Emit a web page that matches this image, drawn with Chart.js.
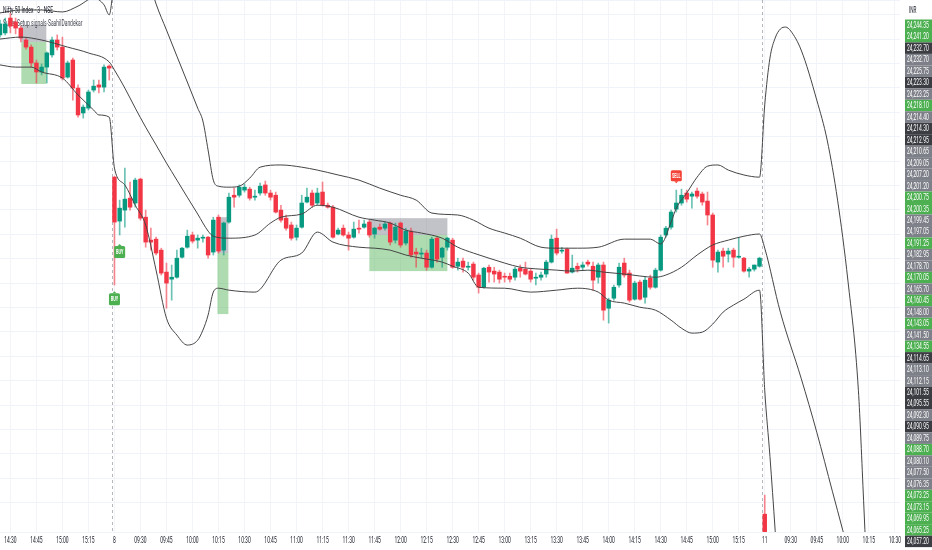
<!DOCTYPE html>
<html>
<head>
<meta charset="utf-8">
<script src="https://cdn.jsdelivr.net/npm/chart.js@4.4.1/dist/chart.umd.min.js"></script>
<style>
  html, body { margin: 0; padding: 0; background: #fff; }
  #wrap { width: 932px; height: 550px; position: relative; }
</style>
</head>
<body>
<div id="wrap"><canvas id="chart"></canvas></div>
<script>
// Nifty 50 Index, 3 min candles (slot 0 = 14:24 on the 7th, slot 22 = 09:15 on the 8th, slot 147 = 09:15 on the 11th)
const slotCount = 174;

const opens = [
  24261.7, 24262.5, 24268.6, 24267.0, 24264.5, 24259.6, 24256.7, 24250.2, 24246.5, 24248.5,
  24253.5, 24259.6, 24256.7, 24244.4, 24251.4, 24239.9, 24229.7, 24231.7, 24239.1, 24241.2,
  24240.3, 24248.9, 24203.4, 24185.4, 24189.9, 24194.8, 24192.8, 24202.6, 24187.0, 24177.6,
  24178.0, 24173.5, 24164.5, 24161.6, 24162.4, 24170.6, 24174.7, 24179.7, 24177.6, 24178.4,
  24178.8, 24172.7, 24187.0, 24173.5, 24185.0, 24196.0, 24196.0, 24198.1, 24198.5, 24195.2,
  24196.9, 24200.2, 24196.9, 24196.0, 24189.9, 24186.6, 24183.8, 24178.8, 24182.9, 24193.2,
  24196.9, 24192.8, 24197.3, 24191.9, 24191.1, 24180.1, 24182.5, 24179.7, 24178.8, 24182.5,
  24182.9, 24185.0, 24180.1, 24182.9, 24182.5, 24184.6, 24177.6, 24184.6, 24176.4, 24181.3,
  24172.7, 24171.9, 24172.3, 24166.5, 24178.4, 24170.6, 24174.7, 24177.6, 24166.9, 24169.0,
  24166.5, 24167.8, 24163.3, 24158.3, 24166.5, 24164.9, 24164.5, 24162.8, 24162.8, 24162.4,
  24166.1, 24165.7, 24164.9, 24162.0, 24162.4, 24163.7, 24168.6, 24178.4, 24173.1, 24173.9,
  24164.5, 24166.9, 24166.5, 24168.6, 24166.9, 24162.4, 24167.4, 24149.7, 24153.8, 24159.2,
  24168.2, 24164.1, 24153.4, 24160.4, 24154.2, 24162.0, 24158.3, 24165.3, 24179.7, 24182.9,
  24190.3, 24192.8, 24196.9, 24195.6, 24197.7, 24196.5, 24193.6, 24187.9, 24168.6, 24173.1,
  24171.9, 24173.5, 24170.6, 24170.2, 24164.9, 24165.7, 24166.9, 24065.3
];
const highs = [
  24267.8, 24268.6, 24270.7, 24268.6, 24265.3, 24260.4, 24257.6, 24251.4, 24249.8, 24254.7,
  24260.8, 24261.7, 24260.8, 24251.0, 24252.2, 24241.2, 24233.0, 24239.1, 24243.2, 24243.2,
  24249.4, 24249.4, 24203.8, 24194.0, 24207.1, 24201.4, 24203.0, 24203.0, 24189.9, 24182.5,
  24178.8, 24174.3, 24168.2, 24167.4, 24173.5, 24174.7, 24181.7, 24180.9, 24179.7, 24179.7,
  24179.2, 24187.0, 24187.9, 24185.0, 24196.9, 24198.9, 24200.2, 24200.6, 24199.3, 24198.1,
  24201.0, 24201.8, 24198.1, 24197.3, 24191.9, 24187.9, 24185.0, 24183.8, 24196.0, 24198.9,
  24198.1, 24198.9, 24201.4, 24192.8, 24191.9, 24182.5, 24183.8, 24180.9, 24185.0, 24185.8,
  24185.8, 24185.8, 24182.9, 24184.2, 24185.0, 24185.0, 24184.6, 24185.0, 24182.5, 24182.5,
  24174.3, 24174.3, 24173.5, 24178.8, 24178.8, 24174.7, 24178.8, 24178.4, 24170.2, 24170.2,
  24168.6, 24168.6, 24164.1, 24166.5, 24167.4, 24166.5, 24165.3, 24164.1, 24164.1, 24166.5,
  24167.4, 24168.6, 24166.1, 24164.1, 24164.5, 24169.4, 24179.7, 24182.1, 24174.7, 24174.3,
  24171.5, 24168.2, 24168.6, 24169.4, 24168.6, 24168.2, 24168.6, 24153.8, 24159.2, 24168.2,
  24170.2, 24165.3, 24160.8, 24161.2, 24162.4, 24163.3, 24166.1, 24179.7, 24183.3, 24189.9,
  24198.1, 24198.5, 24198.1, 24197.3, 24198.9, 24197.3, 24197.3, 24188.7, 24173.5, 24174.3,
  24174.3, 24174.3, 24178.4, 24170.6, 24166.5, 24167.4, 24170.6, 24073.1
];
const lows = [
  24260.8, 24261.7, 24262.5, 24262.1, 24258.8, 24255.9, 24248.5, 24242.0, 24245.3, 24242.0,
  24252.6, 24255.5, 24243.2, 24244.0, 24235.0, 24228.0, 24227.6, 24230.9, 24238.3, 24237.9,
  24238.3, 24243.2, 24159.2, 24179.7, 24182.9, 24189.9, 24191.1, 24185.8, 24174.7, 24173.5,
  24171.5, 24163.3, 24149.7, 24153.0, 24162.0, 24170.2, 24174.3, 24176.4, 24174.3, 24176.8,
  24170.2, 24171.5, 24172.3, 24171.5, 24184.6, 24191.1, 24195.2, 24197.3, 24194.0, 24194.0,
  24196.0, 24196.0, 24194.0, 24188.7, 24185.0, 24181.7, 24177.6, 24177.6, 24182.5, 24192.8,
  24191.1, 24191.9, 24191.5, 24190.7, 24178.4, 24179.7, 24179.2, 24173.5, 24178.4, 24180.5,
  24182.5, 24178.8, 24178.4, 24181.7, 24181.7, 24175.6, 24176.4, 24174.7, 24175.6, 24170.6,
  24166.5, 24170.2, 24165.3, 24166.1, 24168.6, 24166.5, 24173.5, 24166.1, 24165.3, 24164.5,
  24165.3, 24161.2, 24155.9, 24157.9, 24160.4, 24160.4, 24160.0, 24160.4, 24160.4, 24161.2,
  24162.4, 24163.3, 24160.4, 24159.2, 24161.2, 24162.4, 24168.2, 24171.5, 24172.3, 24164.1,
  24164.1, 24164.5, 24165.3, 24166.9, 24157.1, 24160.0, 24144.8, 24143.6, 24153.0, 24158.3,
  24162.4, 24152.2, 24153.0, 24153.0, 24151.8, 24157.5, 24157.9, 24164.9, 24178.8, 24182.1,
  24189.1, 24191.9, 24193.2, 24190.7, 24194.8, 24191.9, 24183.8, 24166.5, 24164.5, 24166.5,
  24168.6, 24166.5, 24170.2, 24164.5, 24162.4, 24164.9, 24166.5, 24056.0
];
const closes = [
  24266.2, 24266.2, 24265.3, 24264.5, 24260.4, 24256.7, 24250.2, 24246.5, 24248.5, 24254.3,
  24259.6, 24256.7, 24244.0, 24250.2, 24239.9, 24228.9, 24232.1, 24238.3, 24240.7, 24240.3,
  24248.5, 24248.1, 24185.0, 24190.7, 24194.4, 24191.1, 24202.2, 24186.6, 24176.8, 24176.8,
  24172.3, 24164.1, 24160.0, 24162.4, 24170.2, 24174.3, 24179.2, 24177.2, 24178.4, 24178.8,
  24171.5, 24185.8, 24173.1, 24184.6, 24195.2, 24195.2, 24199.3, 24199.3, 24194.8, 24195.6,
  24199.7, 24196.9, 24195.2, 24189.1, 24185.8, 24182.5, 24178.4, 24182.5, 24192.8, 24195.2,
  24191.9, 24196.9, 24191.9, 24191.1, 24178.8, 24181.7, 24179.7, 24178.4, 24182.1, 24182.1,
  24184.2, 24179.7, 24182.5, 24182.1, 24184.2, 24176.8, 24182.9, 24175.6, 24181.3, 24171.5,
  24171.9, 24172.3, 24166.5, 24178.0, 24169.8, 24174.3, 24178.4, 24166.5, 24168.6, 24166.5,
  24166.9, 24162.4, 24158.3, 24166.1, 24164.5, 24163.7, 24161.6, 24162.4, 24161.6, 24165.7,
  24164.9, 24163.7, 24161.6, 24162.4, 24163.3, 24168.6, 24178.0, 24172.3, 24173.5, 24164.1,
  24166.1, 24165.7, 24167.4, 24167.8, 24161.2, 24167.4, 24148.9, 24153.0, 24158.3, 24166.5,
  24163.3, 24153.0, 24160.0, 24153.4, 24161.2, 24158.3, 24165.3, 24178.8, 24182.5, 24189.1,
  24192.8, 24196.0, 24194.4, 24196.5, 24195.6, 24193.2, 24187.9, 24169.4, 24172.7, 24171.0,
  24173.1, 24170.6, 24171.0, 24164.9, 24165.7, 24167.4, 24170.2, 24057.2
];

// Bollinger style bands, [slot, price]
const upperBand = [
  [0, 24270.7], [4, 24271.9], [8, 24271.9], [12, 24271.1], [15, 24273.5], [18, 24276.8], [20, 24274.0], [21, 24269.9],
  [22, 24284.2], [24, 24292.4], [26, 24296.5], [28, 24288.3], [30, 24274.4], [32, 24263.7], [34, 24253.0], [36, 24242.4],
  [38, 24231.7], [39, 24226.4], [40, 24214.5], [41, 24202.2], [42, 24199.7], [44, 24199.3], [46, 24199.7], [48, 24203.0],
  [50, 24207.5], [54, 24208.4], [58, 24207.5], [61, 24206.3], [65, 24204.3], [69, 24202.2], [73, 24198.9], [77, 24196.0],
  [80, 24194.0], [83, 24188.7], [88, 24187.9], [91, 24185.8], [94, 24182.5], [97, 24180.5], [100, 24178.4], [104, 24174.7],
  [107, 24174.3], [111, 24174.3], [115, 24174.7], [120, 24178.0], [125, 24178.0], [127, 24176.0], [129, 24185.0], [130, 24190.7],
  [132, 24196.9], [134, 24203.4], [136, 24207.9], [138, 24208.4], [140, 24206.3], [143, 24204.3], [146, 24203.4],
  [147, 24233.0], [148, 24252.2], [149, 24260.4], [150, 24264.1], [151, 24264.9], [152, 24263.3], [154, 24255.5],
  [157, 24235.0], [159, 24218.6], [161, 24194.0], [163, 24160.8], [165, 24116.1], [166, 24071.0], [167, 24021.8]
];
const middleBand = [
  [0, 24260.0], [4, 24260.8], [8, 24259.6], [13, 24256.7], [17, 24254.3], [21, 24250.6], [22, 24247.3], [24, 24239.9],
  [26, 24231.7], [28, 24223.9], [30, 24216.6], [32, 24209.2], [34, 24202.2], [36, 24195.2], [38, 24188.3], [40, 24181.3],
  [41, 24179.2], [44, 24178.4], [49, 24179.7], [52, 24184.6], [54, 24187.0], [58, 24188.3], [61, 24191.9], [64, 24191.1],
  [69, 24187.0], [72, 24185.8], [75, 24184.6], [78, 24181.7], [81, 24180.5], [85, 24178.4], [88, 24174.7], [91, 24172.3],
  [94, 24170.2], [97, 24168.2], [100, 24166.5], [104, 24165.7], [107, 24165.3], [110, 24164.9], [113, 24165.3], [116, 24164.5],
  [120, 24163.7], [126, 24162.4], [128, 24163.3], [131, 24166.5], [134, 24171.5], [137, 24175.6], [140, 24177.6], [143, 24179.2],
  [146, 24180.1], [147, 24174.3], [150, 24148.1], [154, 24121.0], [157, 24098.9], [160, 24074.7], [162, 24058.7], [163, 24050.5]
];
const lowerBand = [
  [0, 24249.4], [3, 24248.5], [6, 24248.5], [8, 24246.5], [12, 24244.0], [15, 24237.1], [18, 24230.9], [19, 24228.9],
  [21, 24228.0], [22, 24207.1], [24, 24200.2], [26, 24191.9], [28, 24183.8], [30, 24165.3], [32, 24145.6], [34, 24138.7],
  [36, 24134.6], [38, 24136.6], [39, 24140.7], [40, 24146.9], [41, 24156.3], [42, 24157.9], [44, 24157.1], [49, 24156.3],
  [54, 24169.4], [58, 24172.3], [61, 24180.9], [64, 24176.8], [69, 24174.7], [72, 24174.3], [75, 24173.5], [78, 24171.5],
  [81, 24170.2], [85, 24168.6], [87, 24166.9], [90, 24164.1], [92, 24158.3], [97, 24157.9], [102, 24156.3], [107, 24157.1],
  [111, 24157.9], [115, 24156.3], [117, 24153.0], [120, 24151.8], [123, 24150.1], [126, 24148.9], [129, 24144.8], [131, 24141.5],
  [133, 24139.5], [135, 24139.9], [137, 24143.2], [139, 24148.1], [141, 24151.0], [143, 24153.4], [146, 24157.1],
  [147, 24116.1], [148, 24089.0], [149, 24058.7], [150, 24025.9]
];

// time axis labels
const tickSlots = [2, 7, 12, 17, 22, 27, 32, 37, 42, 47, 52, 57, 62, 67, 72, 77, 82, 87, 92, 97,
  102, 107, 112, 117, 122, 127, 132, 137, 142, 147, 152, 157, 162, 167, 172];
const tickLabels = ['14:30', '14:45', '15:00', '15:15', '8', '09:30', '09:45', '10:00', '10:15', '10:30',
  '10:45', '11:00', '11:15', '11:30', '11:45', '12:00', '12:15', '12:30', '12:45', '13:00',
  '13:15', '13:30', '13:45', '14:00', '14:15', '14:30', '14:45', '15:00', '15:15', '11',
  '09:30', '09:45', '10:00', '10:15', '10:30'];

// stacked price tags on the right scale (g = green, s = grey, d = dark)
const priceTags = ['24,244.35', '24,241.20', '24,232.70', '24,232.70', '24,225.75', '24,223.30', '24,223.25', '24,218.10',
  '24,214.40', '24,214.30', '24,212.95', '24,210.65', '24,209.05', '24,207.20', '24,201.20', '24,200.75', '24,200.35',
  '24,199.45', '24,197.05', '24,191.25', '24,182.95', '24,178.70', '24,170.05', '24,165.70', '24,160.45', '24,148.00',
  '24,143.05', '24,141.50', '24,134.55', '24,114.65', '24,113.10', '24,112.15', '24,101.55', '24,095.55', '24,092.30',
  '24,090.95', '24,089.75', '24,088.70', '24,080.10', '24,077.50', '24,076.35', '24,073.25', '24,073.15', '24,069.95',
  '24,065.25', '24,057.20'];
const priceTagKinds = ['g', 'g', 'd', 's', 's', 'd', 's', 'g', 's', 'd', 'd', 's', 's', 's', 's', 'g', 'g',
  's', 's', 'g', 's', 's', 'g', 's', 'g', 's', 'g', 's', 'g', 'd', 's', 's', 'd', 'd', 's',
  'd', 's', 'g', 's', 's', 's', 'g', 'g', 'g', 'g', 'd'];

// position tool boxes: slot range, top / entry / bottom price
const boxStart = [4.1, 71.0, 41.8];
const boxEnd = [8.9, 86.0, 43.9];
const boxTop = [24265.8, 24186.6, 24187.0];
const boxEntry = [24258.8, 24179.7, 24172.3];
const boxBottom = [24241.6, 24164.9, 24147.3];

// signal labels
const buySlots = [23, 22];
const buyPrices = [24172.7, 24153.4];
const sellSlots = [130];
const sellPrices = [24204.0];

const sessionBreaks = [21.5, 146.5];
const legendLines = ['Nifty 50 Index · 3 · NSE', 'Super Setup signals-SaahilDandekar'];

const UP = '#089981', DOWN = '#f23645';
const squeeze = 0.55;

function toSeries(pairs) {
  const arr = new Array(slotCount).fill(null);
  pairs.forEach(([i, v]) => { arr[i] = v; });
  return arr;
}

function squeezedText(ctx, text, x, y, font, color, align) {
  ctx.save();
  ctx.translate(x, y);
  ctx.scale(squeeze, 1);
  ctx.font = font;
  ctx.fillStyle = color;
  ctx.textAlign = align || 'left';
  ctx.textBaseline = 'middle';
  ctx.fillText(text, 0, 0);
  ctx.restore();
}

function roundBox(ctx, x, y, w, h, r) {
  ctx.beginPath();
  if (ctx.roundRect) ctx.roundRect(x, y, w, h, r);
  else ctx.rect(x, y, w, h);
  ctx.fill();
}

const bodyData = opens.map((o, i) => [o, closes[i]]);
const wickData = lows.map((l, i) => [l, highs[i]]);
const bodyColors = opens.map((o, i) => closes[i] >= o ? UP : DOWN);
const wickColors = opens.map((o, i) => closes[i] >= o ? 'rgba(8,153,129,0.6)' : 'rgba(242,54,69,0.6)');

const overlay = {
  id: 'overlay',
  beforeDatasetsDraw(chart) {
    const { ctx, chartArea: a, scales: { x, y } } = chart;
    ctx.save();
    // session breaks
    ctx.strokeStyle = 'rgba(120,123,134,0.55)';
    ctx.lineWidth = 1;
    ctx.setLineDash([3, 3]);
    sessionBreaks.forEach(s => {
      const px = Math.round(x.getPixelForValue(s)) + 0.5;
      ctx.beginPath();
      ctx.moveTo(px, a.top);
      ctx.lineTo(px, a.bottom);
      ctx.stroke();
    });
    ctx.setLineDash([]);
    // position boxes
    boxStart.forEach((s, i) => {
      const x0 = x.getPixelForValue(s), x1 = x.getPixelForValue(boxEnd[i]);
      const yt = y.getPixelForValue(boxTop[i]);
      const ye = y.getPixelForValue(boxEntry[i]);
      const yb = y.getPixelForValue(boxBottom[i]);
      ctx.fillStyle = 'rgba(120,123,134,0.45)';
      ctx.fillRect(x0, yt, x1 - x0, ye - yt);
      ctx.fillStyle = 'rgba(76,175,80,0.45)';
      ctx.fillRect(x0, ye, x1 - x0, yb - ye);
    });
    // indicator legend line sits under the candles
    squeezedText(ctx, legendLines[1], 3, 23.5, '9px Roboto', '#434651');
    ctx.restore();
  },
  afterDatasetsDraw(chart) {
    const { ctx, scales: { x, y } } = chart;
    ctx.save();
    squeezedText(ctx, legendLines[0], 3, 11, '9px Roboto', '#131722');
    buySlots.forEach((s, i) => {
      const cx = x.getPixelForValue(s), cy = y.getPixelForValue(buyPrices[i]);
      ctx.fillStyle = '#4caf50';
      roundBox(ctx, cx - 5.5, cy - 6, 11, 12, 1.5);
      ctx.beginPath();
      ctx.moveTo(cx - 2, cy - 6); ctx.lineTo(cx, cy - 8); ctx.lineTo(cx + 2, cy - 6);
      ctx.fill();
      squeezedText(ctx, 'BUY', cx, cy + 0.5, 'bold 7px Roboto', '#ffffff', 'center');
    });
    sellSlots.forEach((s, i) => {
      const cx = x.getPixelForValue(s), cy = y.getPixelForValue(sellPrices[i]);
      ctx.fillStyle = '#f44336';
      roundBox(ctx, cx - 5.5, cy - 5.5, 11, 11, 1.5);
      ctx.beginPath();
      ctx.moveTo(cx - 2, cy + 5.5); ctx.lineTo(cx, cy + 7.5); ctx.lineTo(cx + 2, cy + 5.5);
      ctx.fill();
      squeezedText(ctx, 'SELL', cx, cy + 0.5, 'bold 7px Roboto', '#ffffff', 'center');
    });
    ctx.restore();
  },
  afterDraw(chart) {
    const { ctx, scales: { x } } = chart;
    ctx.save();
    tickSlots.forEach((s, i) => {
      squeezedText(ctx, tickLabels[i], x.getPixelForValue(s), 541, '9px Roboto', '#131722', 'center');
    });
    squeezedText(ctx, 'INR', 909, 11, '8.5px Roboto', '#131722');
    const tagH = 11.47, top0 = 19.5;
    const fills = { g: '#4caf50', s: '#7e8089', d: '#3b3d42' };
    priceTags.forEach((t, i) => {
      const ty = top0 + i * tagH;
      ctx.fillStyle = fills[priceTagKinds[i]];
      ctx.fillRect(905, ty, 27, tagH);
      squeezedText(ctx, t, 907, ty + tagH / 2 + 0.5, '9px Roboto', '#ffffff');
    });
    ctx.restore();
  }
};

const lineStyle = {
  type: 'line',
  borderColor: '#454545',
  borderWidth: 1,
  pointRadius: 0,
  spanGaps: true,
  cubicInterpolationMode: 'monotone',
  order: 0
};

new Chart(document.getElementById('chart'), {
  type: 'bar',
  data: {
    labels: Array.from({ length: slotCount }, (_, i) => i),
    datasets: [
      { ...lineStyle, label: 'Upper', data: toSeries(upperBand) },
      { ...lineStyle, label: 'Basis', data: toSeries(middleBand) },
      { ...lineStyle, label: 'Lower', data: toSeries(lowerBand) },
      {
        label: 'Body', data: bodyData, backgroundColor: bodyColors,
        barThickness: 3.8, minBarLength: 1, grouped: false, order: 1
      },
      {
        label: 'Wick', data: wickData, backgroundColor: wickColors,
        barThickness: 1, grouped: false, order: 2
      }
    ]
  },
  options: {
    responsive: true,
    maintainAspectRatio: false,
    animation: false,
    events: [],
    layout: { padding: 0 },
    plugins: { legend: { display: false }, tooltip: { enabled: false } },
    scales: {
      x: {
        type: 'category',
        offset: false,
        grid: {
          offset: false,
          color: c => tickSlots.includes(c.index) ? '#f3f4f7' : 'rgba(0,0,0,0)',
          drawTicks: false
        },
        border: { display: false },
        ticks: { display: false },
        afterFit: s => { s.height = 18; }
      },
      y: {
        position: 'right',
        min: 24058,
        max: 24276,
        grid: { color: '#f0f3fa', drawTicks: false },
        border: { display: false },
        ticks: { display: false, stepSize: 10 },
        afterFit: s => { s.width = 32; }
      }
    }
  },
  plugins: [overlay]
});
</script>
</body>
</html>
